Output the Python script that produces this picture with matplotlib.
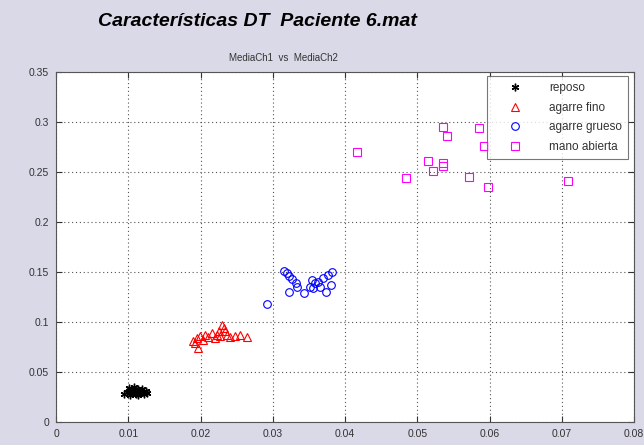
import matplotlib.pyplot as plt

# reposo (black asterisks)
reposo_x = [0.0094, 0.0098, 0.0101, 0.0103, 0.0105, 0.0107, 0.0109, 0.0111, 0.0112, 0.0114,
            0.0116, 0.0118, 0.0120, 0.0122, 0.0124, 0.0126, 0.0103, 0.0108, 0.0113, 0.0119]
reposo_y = [0.028, 0.030, 0.034, 0.031, 0.029, 0.032, 0.030, 0.028, 0.031, 0.033,
            0.029, 0.031, 0.030, 0.028, 0.031, 0.029, 0.027, 0.035, 0.027, 0.033]

# agarre fino (red triangles)
fino_x = [0.0190, 0.0195, 0.0199, 0.0206, 0.0211, 0.0216, 0.0220, 0.0225, 0.0230, 0.0232,
          0.0236, 0.0241, 0.0248, 0.0255, 0.0264, 0.0227, 0.0234, 0.0204, 0.0193, 0.0223, 0.0197]
fino_y = [0.081, 0.084, 0.0858, 0.0875, 0.085, 0.089, 0.084, 0.0908, 0.0974, 0.094,
          0.0875, 0.085, 0.0865, 0.0875, 0.085, 0.0858, 0.0908, 0.0825, 0.0792, 0.0875, 0.0745]

# agarre grueso (blue circles)
grueso_x = [0.0315, 0.0319, 0.0322, 0.0326, 0.0332, 0.0333, 0.0323, 0.0343, 0.0354, 0.0359,
            0.0363, 0.0352, 0.0366, 0.0373, 0.0380, 0.0382, 0.0377, 0.0370, 0.0356, 0.0292]
grueso_y = [0.1514, 0.1494, 0.146, 0.1428, 0.1395, 0.1355, 0.1305, 0.1295, 0.142, 0.1389,
            0.1405, 0.1355, 0.1355, 0.1305, 0.137, 0.1504, 0.147, 0.144, 0.134, 0.118]

# mano abierta (magenta squares)
mano_x = [0.0417, 0.0536, 0.0541, 0.0586, 0.0593, 0.0515, 0.0522, 0.0535, 0.0536,
          0.0485, 0.0571, 0.0598, 0.0708]
mano_y = [0.270, 0.295, 0.286, 0.294, 0.276, 0.261, 0.2515, 0.256, 0.259,
          0.2445, 0.2455, 0.2346, 0.2406]

x_ticks = [0, 0.01, 0.02, 0.03, 0.04, 0.05, 0.06, 0.07, 0.08]
y_ticks = [0, 0.05, 0.1, 0.15, 0.2, 0.25, 0.3, 0.35]
x_labels = ['0', '0.01', '0.02', '0.03', '0.04', '0.05', '0.06', '0.07', '0.08']
y_labels = ['0', '0.05', '0.1', '0.15', '0.2', '0.25', '0.3', '0.35']

plt.rcParams['font.family'] = ['Liberation Sans', 'DejaVu Sans']

fig = plt.figure(figsize=(6.44, 4.45), dpi=100, facecolor='#d9d9e8')
ax = fig.add_axes([0.087, 0.0517, 0.8975, 0.7863])

ax.plot(reposo_x, reposo_y, linestyle='none', marker=(6, 2, 0), color='black',
        markersize=5.5, markeredgewidth=1, label='reposo')
ax.plot(fino_x, fino_y, linestyle='none', marker='^', color='red', markerfacecolor='none',
        markersize=5.5, markeredgewidth=0.8, label='agarre fino')
ax.plot(grueso_x, grueso_y, linestyle='none', marker='o', color='blue', markerfacecolor='none',
        markersize=5.5, markeredgewidth=0.8, label='agarre grueso')
ax.plot(mano_x, mano_y, linestyle='none', marker='s', color='magenta', markerfacecolor='none',
        markersize=5.5, markeredgewidth=0.8, label='mano abierta')

ax.set_xlim(0, 0.08)
ax.set_ylim(0, 0.35)
ax.set_xticks(x_ticks)
ax.set_xticklabels(x_labels)
ax.set_yticks(y_ticks)
ax.set_yticklabels(y_labels)
ax.tick_params(direction='in', length=4, width=0.8, labelsize=7.5, colors='#333333',
               top=True, right=True)
ax.tick_params(axis='x', pad=5)
ax.tick_params(axis='y', pad=5)
for s in ax.spines.values():
    s.set_color('#555555')
    s.set_linewidth(0.8)
ax.grid(True, color='#555555', linestyle=(0, (1, 2.5)), linewidth=0.8)
ax.set_axisbelow(True)

leg = ax.legend(loc='upper right', bbox_to_anchor=(0.9896, 0.9886), borderaxespad=0,
                fontsize=8.5, frameon=True, fancybox=False, edgecolor='#555555',
                borderpad=0.5, handlelength=3.8, handletextpad=1.0, labelspacing=0.65)
leg.get_frame().set_linewidth(0.8)
for t in leg.get_texts():
    t.set_color('#333333')

fig.text(0.399, 0.952, 'Características DT  Paciente 6.mat', ha='center', va='center',
         fontsize=14, fontweight='bold', fontstyle='italic')
fig.text(0.44, 0.870, 'MediaCh1  vs  MediaCh2', ha='center', va='center',
         fontsize=7, color='#333333')

fig.savefig('out.png', dpi=100, facecolor=fig.get_facecolor())
